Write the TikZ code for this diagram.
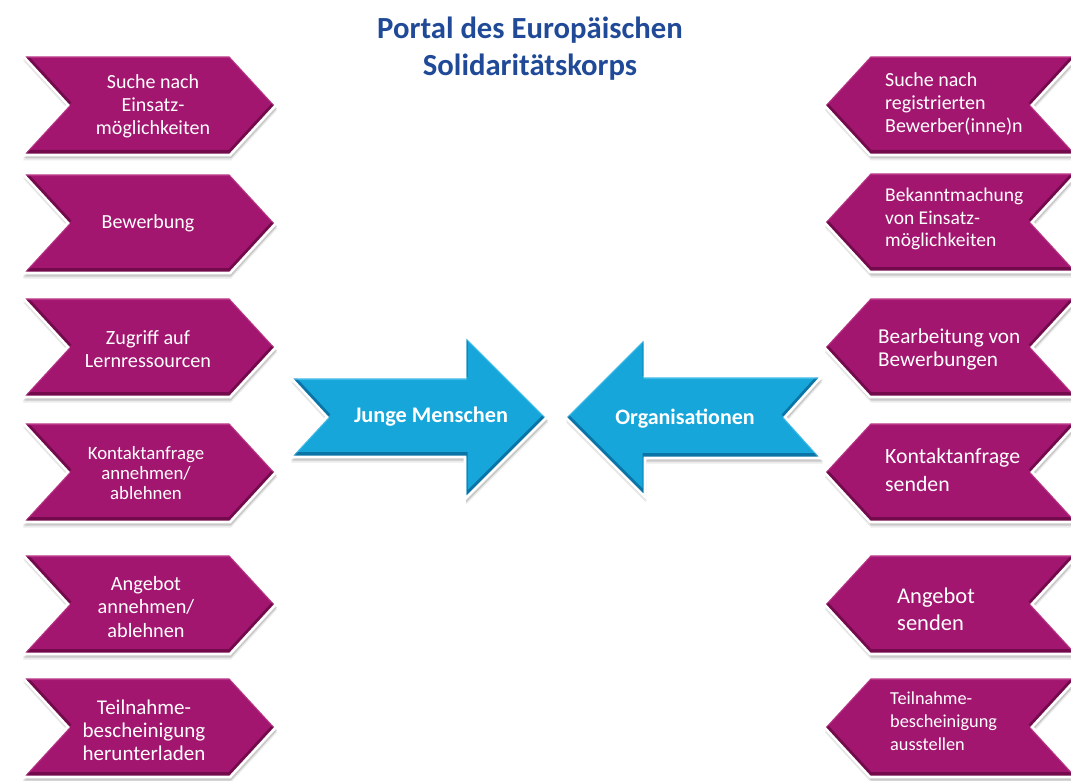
\documentclass[tikz,border=0pt]{standalone}
\usepackage{fontspec}
\setmainfont{Carlito}
\definecolor{magB}{RGB}{162,22,112}
\definecolor{magD}{RGB}{100,6,64}
\definecolor{magL}{RGB}{200,70,150}
\definecolor{bluB}{RGB}{22,166,218}
\definecolor{bluD}{RGB}{8,100,150}
\definecolor{bluL}{RGB}{90,200,240}
\definecolor{titleblue}{RGB}{32,74,152}
\newcommand\bevelshape[4]{%
  \fill[black, opacity=.08, xshift=1pt, yshift=-5.5pt] #1;
  \fill[black, opacity=.14, xshift=1pt, yshift=-3.5pt] #1;
  \fill[#2] #1;
  \begin{scope}
    \clip #1;
    \draw[#3, line width=5pt, opacity=.75, yshift=2.5pt] #1;
    \draw[#4, line width=3pt, opacity=.6, yshift=-1.5pt] #1;
  \end{scope}
  \draw[white, line width=2.6pt, line join=miter] #1;
}
\newcommand\lchevpath{(22,-50) -- (230,-50) -- (276,0) -- (230,50) -- (22,50) -- (68,0) -- cycle}
\newcommand\rchevpath{(824,0) -- (870,-50) -- (1078,-50) -- (1032,0) -- (1078,50) -- (870,50) -- cycle}
\newcommand\lchev[1]{\begin{scope}[yshift=-#1pt]\bevelshape{\lchevpath}{magB}{magD}{magL}\end{scope}}
\newcommand\rchev[1]{\begin{scope}[yshift=-#1pt]\bevelshape{\rchevpath}{magB}{magD}{magL}\end{scope}}
\tikzset{
  ltext/.style={text=white, align=center, inner sep=0pt},
  rtext/.style={text=white, align=left, anchor=west, inner sep=0pt},
  atext/.style={text=white, inner sep=0pt},
}
\begin{document}
\begin{tikzpicture}[x=1pt,y=-1pt]
\fill[white] (0,0) rectangle (1071,781);
\useasboundingbox (0,0) rectangle (1071,781);

% left chevrons
\lchev{105}
\lchev{223}
\lchev{347}
\lchev{472}
\lchev{604}
\lchev{727}
% right chevrons
\rchev{105}
\rchev{222}
\rchev{347}
\rchev{472}
\rchev{604}
\rchev{727}

% central arrows
\bevelshape{(290,377) -- (465,377) -- (465,335) -- (547,417) -- (465,499) -- (465,457) -- (290,457) -- (327,417) -- cycle}{bluB}{bluD}{bluL}
\bevelshape{(565,417) -- (645,337) -- (645,376) -- (822,376) -- (785,417) -- (822,458) -- (645,458) -- (645,497) -- cycle}{bluB}{bluD}{bluL}

% title
\node[font=\bfseries\fontsize{30.7}{37}\selectfont, text=titleblue, align=center, inner sep=0pt] (title) at (530,48.5) {Portal des Europäischen\\Solidaritätskorps};

% arrow texts
\node[atext, font=\bfseries\fontsize{22.3}{26}\selectfont] (jung) at (431,417) {Junge Menschen};
\node[atext, font=\bfseries\fontsize{22}{26}\selectfont] (org) at (685,419) {Organisationen};

% left texts
\node[ltext, font=\fontsize{20}{22.8}\selectfont] (l1) at (153,106) {Suche nach\\Einsatz-\\möglichkeiten};
\node[ltext, font=\fontsize{20}{23}\selectfont] (l2) at (148,223) {Bewerbung};
\node[ltext, font=\fontsize{20.2}{23}\selectfont] (l3) at (148,349) {Zugriff auf\\Lernressourcen};
\node[ltext, font=\fontsize{18.8}{20}\selectfont] (l4) at (146,473) {Kontaktanfrage\\annehmen/\\ablehnen};
\node[ltext, font=\fontsize{20.3}{23.5}\selectfont] (l5) at (146,607) {Angebot\\annehmen/\\ablehnen};
\node[ltext, font=\fontsize{21}{23}\selectfont] (l6) at (144,730) {Teilnahme-\\bescheinigung\\herunterladen};

% right texts
\node[rtext, font=\fontsize{20}{23}\selectfont] (r1) at (885,104) {Suche nach\\registrierten\\Bewerber(inne)n};
\node[rtext, font=\fontsize{19.5}{22.5}\selectfont] (r2) at (885,219) {Bekanntmachung\\von Einsatz-\\möglichkeiten};
\node[rtext, font=\fontsize{21.2}{23}\selectfont] (r3) at (878,349) {Bearbeitung von\\Bewerbungen};
\node[rtext, font=\fontsize{21.8}{28}\selectfont] (r4) at (885,470) {Kontaktanfrage\\senden};
\node[rtext, font=\fontsize{22.5}{27}\selectfont] (r5) at (897,609) {Angebot\\senden};
\node[rtext, font=\fontsize{18.3}{23}\selectfont] (r6) at (890,721) {Teilnahme-\\bescheinigung\\ausstellen};
\end{tikzpicture}
\end{document}
